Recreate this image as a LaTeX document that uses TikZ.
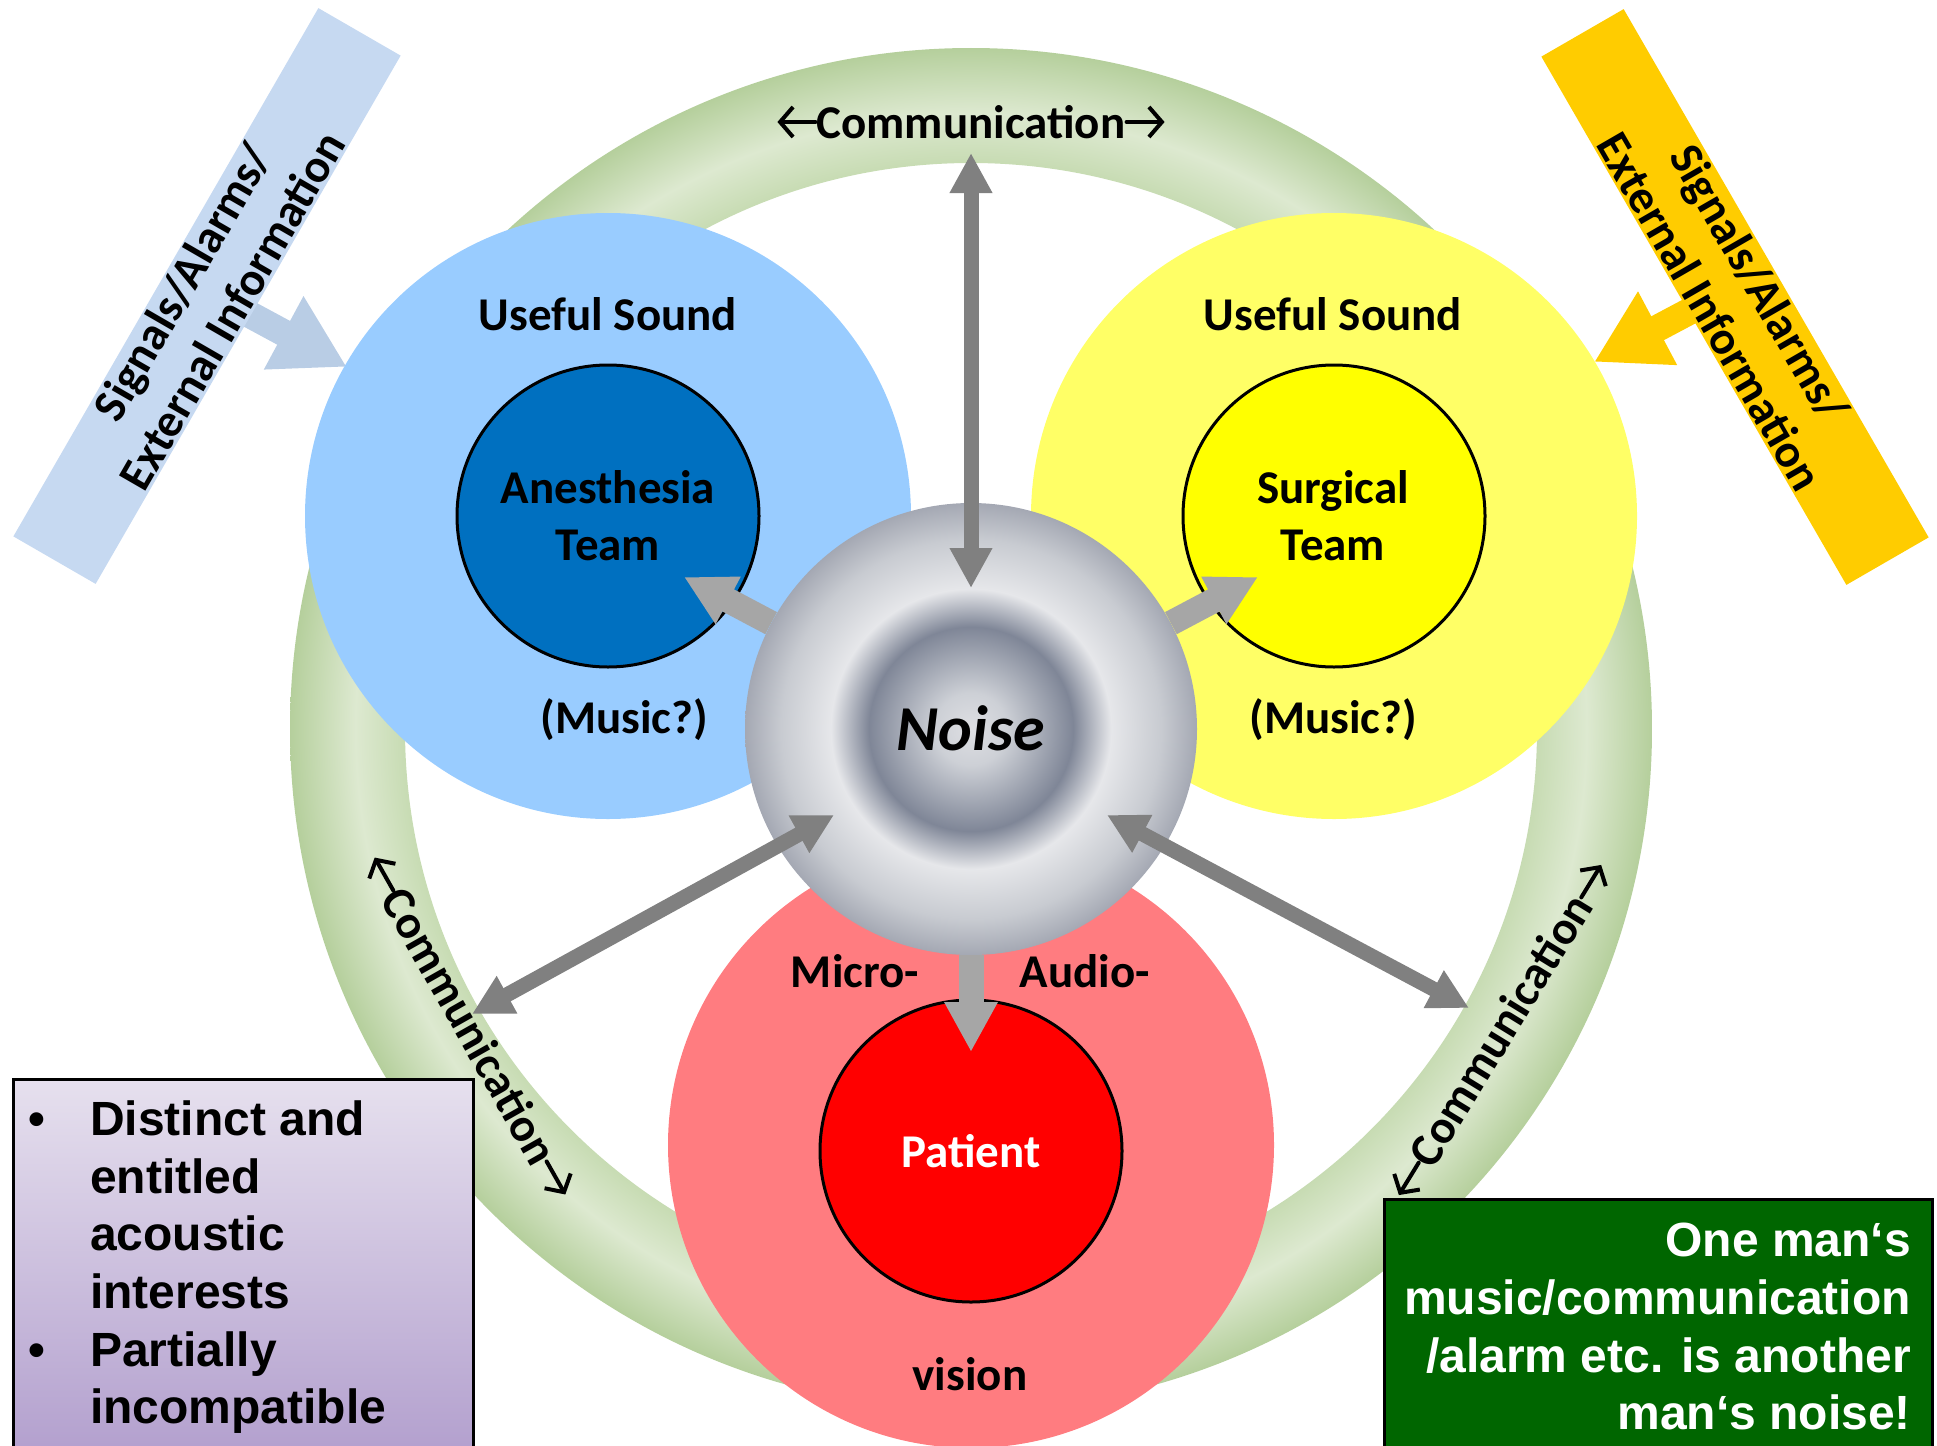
\documentclass[tikz,border=0pt]{standalone}
\usepackage{fontspec}
\setmainfont{Carlito}
\newfontfamily\arialfont{Liberation Sans}
\usetikzlibrary{arrows.meta,calc}
\definecolor{bigblue}{HTML}{99CCFF}
\definecolor{anesblue}{HTML}{0070C0}
\definecolor{bigyellow}{HTML}{FFFF66}
\definecolor{surgyellow}{HTML}{FFFF00}
\definecolor{bigred}{HTML}{FF7C80}
\definecolor{patred}{HTML}{FF0000}
\definecolor{sigblue}{HTML}{C6D9F1}
\definecolor{sigblueb}{HTML}{B9CDE5}
\definecolor{sigyellow}{HTML}{FFCC00}
\definecolor{grayA}{HTML}{808080}
\definecolor{grayB}{HTML}{A6A6A6}
\definecolor{purpTop}{HTML}{E6E0EE}
\definecolor{purpBot}{HTML}{B3A0CE}
\definecolor{boxgreen}{HTML}{006600}
\definecolor{ringmid}{HTML}{C5DAB0}
\definecolor{ringlight}{HTML}{DDE9D0}
\definecolor{ringdark}{HTML}{B5CF9C}
\definecolor{nzA}{HTML}{DEDFE3}
\definecolor{nzB}{HTML}{CDD0D6}
\definecolor{nzC}{HTML}{7F8697}
\definecolor{nzD}{HTML}{E6E7EA}
\definecolor{nzE}{HTML}{C8CBD1}
\definecolor{nzF}{HTML}{A4A8B3}
\pgfdeclareradialshading{ringshade}{\pgfpoint{0bp}{0bp}}{color(0bp)=(ringmid); color(20.6bp)=(ringmid); color(22.6bp)=(ringlight); color(25bp)=(ringdark); color(50bp)=(ringdark)}
\pgfdeclareradialshading{noiseshade}{\pgfpoint{0bp}{0bp}}{color(0bp)=(nzA); color(4bp)=(nzB); color(11.3bp)=(nzC); color(15.5bp)=(nzD); color(21bp)=(nzE); color(25bp)=(nzF); color(50bp)=(nzF)}
\begin{document}
\begin{tikzpicture}[x=1pt,y=1pt,
  lbl/.style={font=\bfseries\fontsize{47}{57}\selectfont, inner sep=0pt},
  arialtxt/.style={font=\arialfont\bfseries\fontsize{48}{58}\selectfont, inner sep=0pt},
  bigcirc/.style={circle, minimum size=606pt, inner sep=0pt},
  innercirc/.style={circle, minimum size=302pt, inner sep=0pt, draw=black, line width=3pt},
  teamarr/.style={draw=grayB, line width=25pt, -{Triangle[length=50pt,width=50pt]}},
  longarr/.style={draw=grayA, line width=15pt, {Triangle[length=40pt,width=40pt]}-{Triangle[length=40pt,width=40pt]}},
  sigarr/.style={line width=27pt, -{Triangle[length=72pt,width=78pt]}},
  commarr/.style={line width=4pt, line cap=round, line join=round, -{Straight Barb[length=13pt,width=30pt]}}
]
\useasboundingbox (0,0) rectangle (1937,-1445);
\clip (0,0) rectangle (1937,-1445);

% ring
\shade[shading=ringshade, even odd rule] (971,-729) circle[radius=681] (971,-729) circle[radius=566];

% signal arrows
\coordinate (sLs) at (171,-272);
\coordinate (sLt) at (347,-367);
\coordinate (sRs) at (1771,-268);
\coordinate (sRt) at (1594,-362);
\draw[sigarr, draw=sigblueb, fill=sigblueb] (sLs) -- (sLt);
\draw[sigarr, draw=sigyellow, fill=sigyellow] (sRs) -- (sRt);

% signal boxes
\node[lbl, rotate=60, minimum width=610pt, minimum height=95pt, fill=sigblue, align=center] (sigL) at (207,-296) {Signals/Alarms/\\External Information};
\node[lbl, rotate=-60, minimum width=610pt, minimum height=95pt, fill=sigyellow, align=center] (sigR) at (1735,-297) {Signals/Alarms/\\External Information};

% big circles
\node[bigcirc, fill=bigblue] (blue) at (608,-516) {};
\node[bigcirc, fill=bigyellow] (yellow) at (1334,-516) {};
\node[bigcirc, fill=bigred] (red) at (971,-1145) {};

% inner circles
\node[innercirc, fill=anesblue] (anes) at (608,-516) {};
\node[innercirc, fill=surgyellow] (surg) at (1334,-516) {};
\node[innercirc, fill=patred] (pat) at (971,-1151) {};

% noise
\node[circle, minimum size=452pt, inner sep=0pt, shade, shading=noiseshade] (noise) at (971,-729) {};

% arrows
\coordinate (tipA) at (684,-577);
\coordinate (tipS) at (1258,-577);
\coordinate (tipP) at (971,-1052);
\draw[teamarr] (noise) -- (tipA);
\draw[teamarr] (noise) -- (tipS);
\draw[teamarr] (noise) -- (tipP);

\coordinate (vt1) at (971,-153);
\coordinate (vt2) at (971,-588);
\coordinate (dl1) at (834,-815);
\coordinate (dl2) at (472,-1014);
\coordinate (dr1) at (1107,-815);
\coordinate (dr2) at (1469,-1008);
\draw[longarr] (vt1) -- (vt2);
\draw[longarr] (dl1) -- (dl2);
\draw[longarr] (dr1) -- (dr2);

% texts
\node[lbl, anchor=base] (us1) at (608,-330) {Useful Sound};
\node[lbl, anchor=base] (us2) at (1333,-330) {Useful Sound};
\node[lbl, anchor=base] (an1) at (608,-503) {Anesthesia};
\node[lbl, anchor=base] (an2) at (608,-560) {Team};
\node[lbl, anchor=base] (su1) at (1333,-503) {Surgical};
\node[lbl, anchor=base] (su2) at (1333,-560) {Team};
\node[lbl, anchor=base] (mu1) at (624,-733) {(Music?)};
\node[lbl, anchor=base] (mu2) at (1333,-733) {(Music?)};
\node[font=\bfseries\itshape\fontsize{64}{72}\selectfont, inner sep=0pt, anchor=base] (nz) at (971,-750) {Noise};
\node[lbl, anchor=base] (mic) at (855,-987) {Micro-};
\node[lbl, anchor=base] (aud) at (1085,-987) {Audio-};
\node[lbl, anchor=base] (vis) at (970,-1390) {vision};
\node[lbl, anchor=base, text=white] (patt) at (971,-1167) {Patient};

% purple box
\node[anchor=north west, minimum width=460pt, minimum height=372pt, inner sep=0pt, draw=black, line width=3pt, top color=purpTop, bottom color=purpBot] (pbox) at (12,-1078) {};
\node[arialtxt, anchor=base] (bul1) at (37,-1135) {•};
\node[arialtxt, anchor=base] (bul2) at (37,-1366) {•};
\node[arialtxt, anchor=base west] (pl1) at (90,-1135) {Distinct and};
\node[arialtxt, anchor=base west] (pl2) at (90,-1193) {entitled};
\node[arialtxt, anchor=base west] (pl3) at (90,-1250) {acoustic};
\node[arialtxt, anchor=base west] (pl4) at (90,-1308) {interests};
\node[arialtxt, anchor=base west] (pl5) at (90,-1366) {Partially};
\node[arialtxt, anchor=base west] (pl6) at (90,-1423) {incompatible};

% green box
\node[anchor=north west, minimum width=548pt, minimum height=252pt, inner sep=0pt, draw=black, line width=3pt, fill=boxgreen] (gbox) at (1383,-1198) {};
\node[arialtxt, anchor=base east, text=white] (gl1) at (1911,-1256) {One man‘s};
\node[arialtxt, anchor=base east, text=white] (gl2) at (1911,-1314) {music/communication};
\node[arialtxt, anchor=base east, text=white] (gl3) at (1911,-1372) {/alarm etc. is another};
\node[arialtxt, anchor=base east, text=white] (gl4) at (1911,-1429) {man‘s noise!};

% communication labels
\begin{scope}[shift={(971,-122)}]
  \node[lbl, inner xsep=1pt] (ctop) at (0,0) {Communication};
  \draw[commarr] (ctop.west) -- ++(-38,0);
  \draw[commarr] (ctop.east) -- ++(38,0);
\end{scope}
\begin{scope}[shift={(470,-1026)}, rotate=-60.5]
  \node[lbl, transform shape, inner xsep=1pt] (cleft) at (0,0) {Communication};
  \draw[commarr] (cleft.west) -- ++(-38,0);
  \draw[commarr] (cleft.east) -- ++(38,0);
\end{scope}
\begin{scope}[shift={(1500,-1030)}, rotate=58.5]
  \node[lbl, transform shape, inner xsep=1pt] (cright) at (0,0) {Communication};
  \draw[commarr] (cright.west) -- ++(-38,0);
  \draw[commarr] (cright.east) -- ++(38,0);
\end{scope}
\end{tikzpicture}
\end{document}
